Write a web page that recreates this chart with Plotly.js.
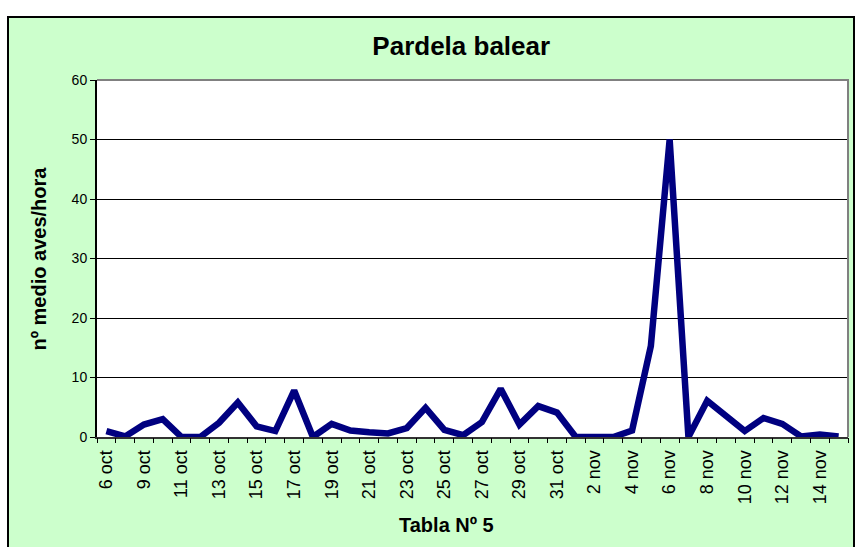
<!DOCTYPE html>
<html>
<head>
<meta charset="utf-8">
<script src="https://cdn.plot.ly/plotly-3.0.1.min.js"></script>
<style>
  html, body { margin: 0; padding: 0; background: #ffffff; width: 861px; height: 547px; overflow: hidden; }
  #frame { position: absolute; left: 7px; top: 16px; width: 844px; height: 560px; background: #CCFFCC; border: 2px solid #000; }
  #chart { position: absolute; left: 0; top: 0; width: 861px; height: 547px; }
</style>
</head>
<body>
<div id="frame"></div>
<div id="chart"></div>
<script>
// Categories (daily counts, Oct-Nov)
const categories = [
  "6 oct","8 oct","9 oct","10 oct","11 oct","12 oct","13 oct","14 oct","15 oct","16 oct",
  "17 oct","18 oct","19 oct","20 oct","21 oct","22 oct","23 oct","24 oct","25 oct","26 oct",
  "27 oct","28 oct","29 oct","30 oct","31 oct","1 nov","2 nov","3 nov","4 nov","5 nov",
  "6 nov","7 nov","8 nov","9 nov","10 nov","11 nov","12 nov","13 nov","14 nov","15 nov"
];
// nº medio aves/hora
const avesHora = [
  1.0, 0.1, 2.1, 3.0, 0.0, 0.0, 2.4, 5.8, 1.8, 1.0,
  7.8, 0.0, 2.2, 1.1, 0.8, 0.6, 1.5, 4.9, 1.2, 0.3,
  2.5, 8.1, 2.1, 5.2, 4.1, 0.0, 0.0, 0.0, 1.1, 15.3,
  50.0, 0.0, 6.1, 3.5, 1.0, 3.2, 2.2, 0.1, 0.4, 0.1
];
const tickLabels = categories.filter((c, i) => i % 2 === 0);
const yTicks = [0, 10, 20, 30, 40, 50, 60];

const FONT = "Liberation Sans, Arial, sans-serif";

const trace = {
  type: "scatter",
  mode: "lines",
  x: categories,
  y: avesHora,
  line: { color: "#000080", width: 6.5 },
  hoverinfo: "x+y",
  showlegend: false
};

const layout = {
  width: 861,
  height: 547,
  margin: { l: 97, r: 13, t: 80, b: 110 },
  paper_bgcolor: "rgba(0,0,0,0)",
  plot_bgcolor: "#ffffff",
  font: { family: FONT, color: "#000" },
  title: {
    text: "Pardela balear",
    font: { family: FONT, size: 26, weight: "bold", color: "#000" },
    xref: "paper", x: 0.485, xanchor: "center",
    yref: "container", y: 1 - 46 / 547, yanchor: "middle"
  },
  xaxis: {
    type: "category",
    categoryorder: "array",
    categoryarray: categories,
    range: [-0.5, categories.length - 0.5],
    tickmode: "array",
    tickvals: tickLabels,
    ticktext: tickLabels,
    tickangle: -90,
    ticks: "",
    ticklabelstandoff: 4,
    tickfont: { family: FONT, size: 18, color: "#000" },
    showgrid: false,
    zeroline: false,
    showline: true,
    linecolor: "#333333",
    linewidth: 2
  },
  xaxis2: {
    overlaying: "x",
    anchor: "y",
    side: "bottom",
    type: "linear",
    range: [0, categories.length],
    tick0: 0,
    dtick: 1,
    ticks: "outside",
    ticklen: 5,
    tickwidth: 1,
    tickcolor: "#000",
    showticklabels: false,
    showgrid: false,
    zeroline: false,
    showline: false
  },
  yaxis: {
    range: [0, 60],
    tickmode: "array",
    tickvals: yTicks,
    ticktext: yTicks.map(String),
    ticks: "outside",
    ticklen: 5,
    tickcolor: "#000",
    tickfont: { family: FONT, size: 14, color: "#000" },
    showgrid: true,
    gridcolor: "#000000",
    gridwidth: 1,
    zeroline: false,
    showline: true,
    linecolor: "#000",
    linewidth: 2
  },
  shapes: [
    {
      type: "path", xref: "paper", yref: "paper",
      path: "M0,1 L1,1 L1,0",
      line: { color: "#808080", width: 2 },
      layer: "above"
    }
  ],
  annotations: [
    {
      text: "nº medio aves/hora",
      xref: "paper", yref: "paper",
      x: (38 - 97) / 751, y: 0.5,
      xanchor: "center", yanchor: "middle",
      textangle: -90, showarrow: false,
      font: { family: FONT, size: 20, weight: "bold", color: "#000" }
    },
    {
      text: "Tabla Nº 5",
      xref: "paper", yref: "paper",
      x: (446 - 97) / 751, y: (437 - 525) / 357,
      xanchor: "center", yanchor: "middle",
      showarrow: false,
      font: { family: FONT, size: 20, weight: "bold", color: "#000" }
    }
  ]
};

Plotly.newPlot("chart", [trace, { type: "scatter", x: [], y: [], xaxis: "x2", yaxis: "y", showlegend: false, hoverinfo: "skip" }], layout, { displayModeBar: false, staticPlot: true });
</script>
</body>
</html>
